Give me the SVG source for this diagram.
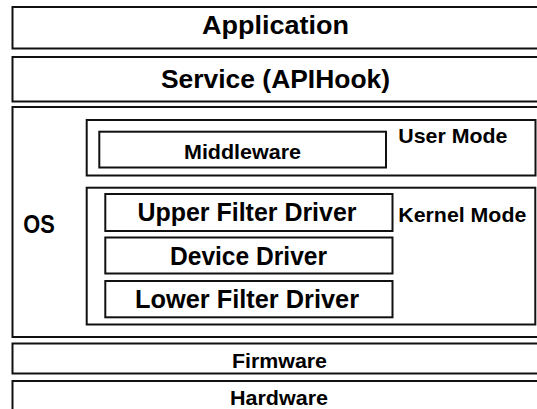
<svg xmlns="http://www.w3.org/2000/svg" width="537" height="409" viewBox="0 0 537 409">
  <style>
    rect { fill: #fff; stroke: #111; stroke-width: 2; }
    text { font-family: "Liberation Sans", Arial, sans-serif; font-weight: bold; fill: #000; text-anchor: middle; }
    .top { font-size: 26px; }
    .big { font-size: 25px; }
    .mid { font-size: 21px; }
    .side { text-anchor: start; font-size: 21px; }
  </style>
  <rect x="0" y="0" width="537" height="409" style="stroke:none"/>

  <g id="application">
    <rect x="12.5" y="7" width="535" height="41.5"/>
    <text class="top" x="275.5" y="34" textLength="147" lengthAdjust="spacingAndGlyphs">Application</text>
  </g>

  <g id="service">
    <rect x="12.5" y="57" width="535" height="44.5"/>
    <text class="top" x="275.5" y="88" textLength="229" lengthAdjust="spacingAndGlyphs">Service (APIHook)</text>
  </g>

  <g id="os">
    <rect x="12.5" y="107" width="535" height="230"/>
    <text class="big" x="39" y="232.5" textLength="31.5" lengthAdjust="spacingAndGlyphs">OS</text>
  </g>

  <g id="user-mode">
    <rect x="86.7" y="120" width="448.8" height="55.5"/>
    <text class="side" x="398.3" y="143" textLength="109" lengthAdjust="spacingAndGlyphs">User Mode</text>
  </g>

  <g id="middleware">
    <rect x="99.3" y="131.7" width="286.7" height="35.8"/>
    <text class="mid" x="242.5" y="158.5" textLength="117" lengthAdjust="spacingAndGlyphs">Middleware</text>
  </g>

  <g id="kernel-mode">
    <rect x="86.7" y="187.7" width="448.6" height="136.8"/>
    <text class="side" x="398.3" y="222" textLength="128" lengthAdjust="spacingAndGlyphs">Kernel Mode</text>
  </g>

  <g id="upper-filter-driver">
    <rect x="105.3" y="194" width="287.2" height="37"/>
    <text class="big" x="247" y="221" textLength="219" lengthAdjust="spacingAndGlyphs">Upper Filter Driver</text>
  </g>

  <g id="device-driver">
    <rect x="105.3" y="237.5" width="287.2" height="36"/>
    <text class="big" x="248.5" y="265" textLength="157" lengthAdjust="spacingAndGlyphs">Device Driver</text>
  </g>

  <g id="lower-filter-driver">
    <rect x="105.3" y="281" width="287.2" height="36.3"/>
    <text class="big" x="247" y="308" textLength="224" lengthAdjust="spacingAndGlyphs">Lower Filter Driver</text>
  </g>

  <g id="firmware">
    <rect x="12.5" y="343.5" width="535" height="30"/>
    <text class="mid" x="279.5" y="367.8" textLength="95" lengthAdjust="spacingAndGlyphs">Firmware</text>
  </g>

  <g id="hardware">
    <rect x="12.5" y="381" width="535" height="40"/>
    <text class="mid" x="279" y="404.5" textLength="98" lengthAdjust="spacingAndGlyphs">Hardware</text>
  </g>

  <g id="connectors"></g>
</svg>
